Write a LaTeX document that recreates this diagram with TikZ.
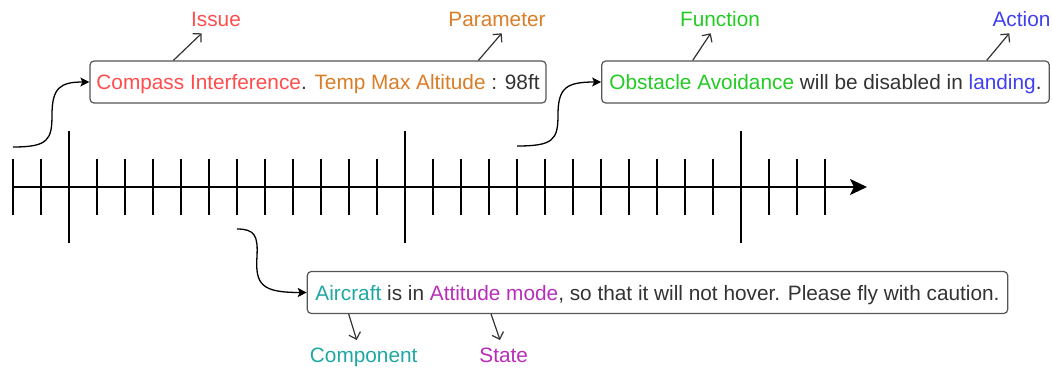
\documentclass[tikz,border=0pt]{standalone}
\usepackage{fontspec}
\setmainfont{Liberation Sans}
\usetikzlibrary{arrows.meta,calc}

\definecolor{issuecol}{RGB}{255,77,77}
\definecolor{paramcol}{RGB}{219,125,38}
\definecolor{funccol}{RGB}{34,204,34}
\definecolor{actcol}{RGB}{64,64,240}
\definecolor{compcol}{RGB}{31,168,163}
\definecolor{statecol}{RGB}{184,46,184}
\definecolor{bodycol}{RGB}{51,51,51}
\definecolor{edgecol}{RGB}{85,85,85}

\begin{document}
\begin{tikzpicture}[x=1pt,y=-1pt,
  txt/.style={font=\fontsize{20.8}{24}\selectfont},
  msgbox/.style={txt, draw=edgecol, line width=1.2pt, rounded corners=4pt,
    fill=white, inner sep=0pt, text height=15pt, text depth=0pt,
    minimum height=42pt, text=bodycol},
  tag/.style={txt, anchor=base, inner sep=0pt},
  tagline/.style={draw=bodycol, line width=1.2pt,
    -{Straight Barb[length=6pt,width=12pt]}},
  link/.style={draw=black, line width=1.3pt,
    -{Stealth[length=9pt,width=9pt,inset=2pt]}},
  axisline/.style={draw=black, line width=2.2pt,
    -{Stealth[length=17pt,width=16pt,inset=4pt]}},
  minortick/.style={draw=black, line width=1.3pt},
  majortick/.style={draw=black, line width=2.4pt},
]
\useasboundingbox (0,0) rectangle (1052,370);

% time axis with ticks every 28pt, a major tick every twelfth
\coordinate (axstart) at (13,187);
\coordinate (axend) at (867,187);
\foreach \k in {0,...,29}{
  \pgfmathtruncatemacro{\m}{mod(\k,12)}
  \ifnum\m=2
    \draw[majortick] (13+28*\k,131) -- (13+28*\k,243);
  \else
    \draw[minortick] (13+28*\k,159) -- (13+28*\k,215);
  \fi
}
\draw[axisline] (axstart) -- (axend);

% message boxes
\node[msgbox, minimum width=456pt] (b1) at (318,82)
  {{\color{issuecol}Compass Interference}. {\color{paramcol}Temp Max Altitude} : 98ft};
\node[msgbox, minimum width=447.6pt] (b2) at (825.5,82)
  {{\color{funccol}Obstacle Avoidance} will be disabled in {\color{actcol}landing}.};
\node[msgbox, minimum width=700.4pt] (b3) at (657.5,292.5)
  {{\color{compcol}Aircraft} is in {\color{statecol}Attitude mode}, so that it will not hover. Please fly with caution.};

% category labels
\node[tag, text=issuecol] (issue) at (216,26.7) {Issue};
\node[tag, text=paramcol] (param) at (497,26.7) {Parameter};
\node[tag, text=funccol] (func) at (720,26.7) {Function};
\node[tag, text=actcol] (act) at (1021.5,26.7) {Action};
\node[tag, text=compcol] (comp) at (363.7,362.7) {Component};
\node[tag, text=statecol] (state) at (503.7,362.7) {State};

% pointers from the boxes to their labels
\coordinate (issuetip) at (201.7,33.3);
\coordinate (paramtip) at (501.7,33.3);
\coordinate (functip) at (710.7,33.3);
\coordinate (acttip) at (1009.3,33.3);
\coordinate (comptip) at (356.7,340);
\coordinate (statetip) at (500,340);
\draw[tagline] ($(b1.north west)+(84,0)$) -- (issuetip);
\draw[tagline] ($(b1.north west)+(389,0)$) -- (paramtip);
\draw[tagline] ($(b2.north west)+(91.6,0)$) -- (functip);
\draw[tagline] ($(b2.north west)+(385.6,0)$) -- (acttip);
\draw[tagline] ($(b3.south west)+(42,0)$) -- (comptip);
\draw[tagline] ($(b3.south west)+(184.4,0)$) -- (statetip);

% curved links from the axis to the boxes
\coordinate (s1) at (13,147);
\coordinate (s2) at (517,146);
\coordinate (s3) at (237,229);
\draw[link] (s1) .. controls (48,147) and (52,140) .. (52,115)
  .. controls (52,88) and (60,82) .. (b1.west);
\draw[link] (s2) .. controls (553,146) and (558,140) .. (558,115)
  .. controls (558,88) and (566,82) .. (b2.west);
\draw[link] (s3) .. controls (255,229) and (258,236) .. (257,256)
  .. controls (255,285) and (262,292.5) .. (b3.west);
\end{tikzpicture}
\end{document}
